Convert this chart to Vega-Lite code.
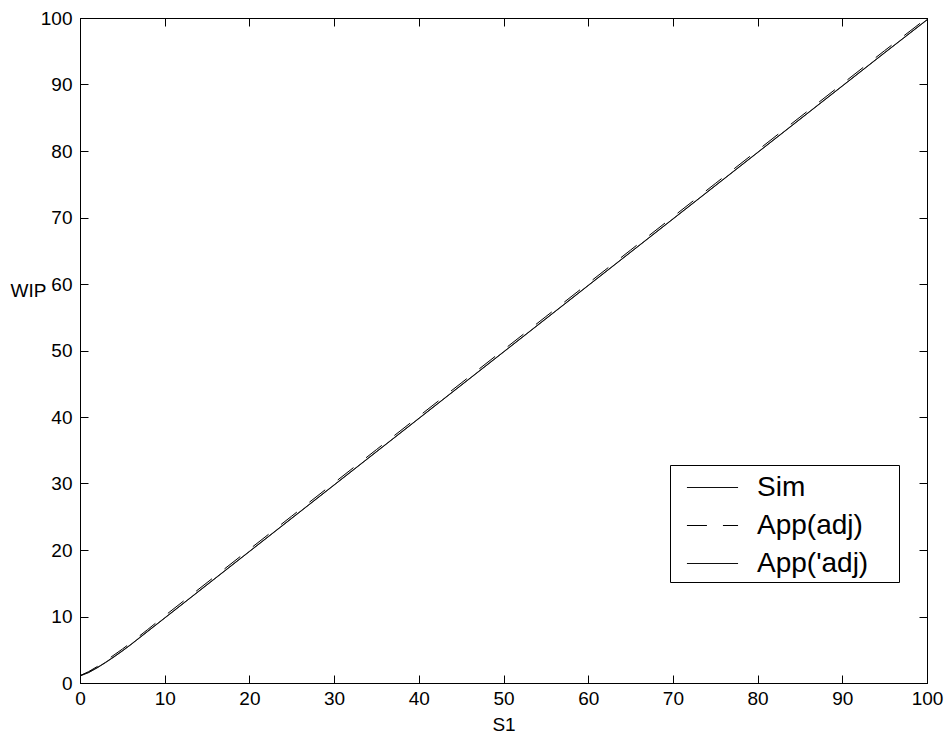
{
  "$schema": "https://vega.github.io/schema/vega-lite/v6.json",
  "autosize": "none",
  "width": 847,
  "height": 665,
  "padding": {"left": 80, "top": 18, "right": 22, "bottom": 53},
  "background": "white",
  "data": {
    "values": [
      {"series": "Sim", "s1": 0, "wip": 1.1},
      {"series": "Sim", "s1": 1, "wip": 1.6},
      {"series": "Sim", "s1": 2, "wip": 2.3},
      {"series": "Sim", "s1": 3, "wip": 3.1},
      {"series": "Sim", "s1": 4, "wip": 3.95},
      {"series": "Sim", "s1": 5, "wip": 4.85},
      {"series": "Sim", "s1": 6, "wip": 5.8},
      {"series": "Sim", "s1": 8, "wip": 7.8},
      {"series": "Sim", "s1": 10, "wip": 9.8},
      {"series": "Sim", "s1": 15, "wip": 14.8},
      {"series": "Sim", "s1": 20, "wip": 19.8},
      {"series": "Sim", "s1": 25, "wip": 24.8},
      {"series": "Sim", "s1": 30, "wip": 29.8},
      {"series": "Sim", "s1": 35, "wip": 34.8},
      {"series": "Sim", "s1": 40, "wip": 39.8},
      {"series": "Sim", "s1": 45, "wip": 44.8},
      {"series": "Sim", "s1": 50, "wip": 49.8},
      {"series": "Sim", "s1": 55, "wip": 54.8},
      {"series": "Sim", "s1": 60, "wip": 59.8},
      {"series": "Sim", "s1": 65, "wip": 64.8},
      {"series": "Sim", "s1": 70, "wip": 69.8},
      {"series": "Sim", "s1": 75, "wip": 74.8},
      {"series": "Sim", "s1": 80, "wip": 79.8},
      {"series": "Sim", "s1": 85, "wip": 84.8},
      {"series": "Sim", "s1": 90, "wip": 89.8},
      {"series": "Sim", "s1": 95, "wip": 94.8},
      {"series": "Sim", "s1": 100, "wip": 99.75},
      {"series": "App(adj)", "s1": 0, "wip": 1.1},
      {"series": "App(adj)", "s1": 1, "wip": 1.7},
      {"series": "App(adj)", "s1": 2, "wip": 2.45},
      {"series": "App(adj)", "s1": 3, "wip": 3.3},
      {"series": "App(adj)", "s1": 4, "wip": 4.2},
      {"series": "App(adj)", "s1": 5, "wip": 5.1},
      {"series": "App(adj)", "s1": 6, "wip": 6.05},
      {"series": "App(adj)", "s1": 8, "wip": 8.05},
      {"series": "App(adj)", "s1": 10, "wip": 10.1},
      {"series": "App(adj)", "s1": 15, "wip": 15.1},
      {"series": "App(adj)", "s1": 20, "wip": 20.1},
      {"series": "App(adj)", "s1": 25, "wip": 25.1},
      {"series": "App(adj)", "s1": 30, "wip": 30.1},
      {"series": "App(adj)", "s1": 35, "wip": 35.1},
      {"series": "App(adj)", "s1": 40, "wip": 40.1},
      {"series": "App(adj)", "s1": 45, "wip": 45.1},
      {"series": "App(adj)", "s1": 50, "wip": 50.1},
      {"series": "App(adj)", "s1": 55, "wip": 55.1},
      {"series": "App(adj)", "s1": 60, "wip": 60.1},
      {"series": "App(adj)", "s1": 65, "wip": 65.1},
      {"series": "App(adj)", "s1": 70, "wip": 70.1},
      {"series": "App(adj)", "s1": 75, "wip": 75.1},
      {"series": "App(adj)", "s1": 80, "wip": 80.1},
      {"series": "App(adj)", "s1": 85, "wip": 85.1},
      {"series": "App(adj)", "s1": 90, "wip": 90.1},
      {"series": "App(adj)", "s1": 95, "wip": 95.1},
      {"series": "App(adj)", "s1": 100, "wip": 100.0},
      {"series": "App('adj)", "s1": 0, "wip": 1.05},
      {"series": "App('adj)", "s1": 1, "wip": 1.55},
      {"series": "App('adj)", "s1": 2, "wip": 2.25},
      {"series": "App('adj)", "s1": 3, "wip": 3.05},
      {"series": "App('adj)", "s1": 4, "wip": 3.9},
      {"series": "App('adj)", "s1": 5, "wip": 4.8},
      {"series": "App('adj)", "s1": 6, "wip": 5.75},
      {"series": "App('adj)", "s1": 8, "wip": 7.75},
      {"series": "App('adj)", "s1": 10, "wip": 9.75},
      {"series": "App('adj)", "s1": 15, "wip": 14.75},
      {"series": "App('adj)", "s1": 20, "wip": 19.75},
      {"series": "App('adj)", "s1": 25, "wip": 24.75},
      {"series": "App('adj)", "s1": 30, "wip": 29.75},
      {"series": "App('adj)", "s1": 35, "wip": 34.75},
      {"series": "App('adj)", "s1": 40, "wip": 39.75},
      {"series": "App('adj)", "s1": 45, "wip": 44.75},
      {"series": "App('adj)", "s1": 50, "wip": 49.75},
      {"series": "App('adj)", "s1": 55, "wip": 54.75},
      {"series": "App('adj)", "s1": 60, "wip": 59.75},
      {"series": "App('adj)", "s1": 65, "wip": 64.75},
      {"series": "App('adj)", "s1": 70, "wip": 69.75},
      {"series": "App('adj)", "s1": 75, "wip": 74.75},
      {"series": "App('adj)", "s1": 80, "wip": 79.75},
      {"series": "App('adj)", "s1": 85, "wip": 84.75},
      {"series": "App('adj)", "s1": 90, "wip": 89.75},
      {"series": "App('adj)", "s1": 95, "wip": 94.75},
      {"series": "App('adj)", "s1": 100, "wip": 99.7}
    ]
  },
  "layer": [
    {
      "mark": {"type": "line", "color": "black", "strokeWidth": 1, "opacity": 1, "clip": true},
      "encoding": {
        "x": {
          "field": "s1", "type": "quantitative",
          "scale": {"domain": [0, 100], "nice": false, "zero": false},
          "axis": {
            "orient": "bottom",
            "values": [0, 10, 20, 30, 40, 50, 60, 70, 80, 90, 100],
            "title": "S1",
            "titleX": 423.5,
            "titleY": 47,
            "titleAnchor": null,
            "titleAlign": "center",
            "titleBaseline": "alphabetic",
            "labelPadding": 14
          }
        },
        "y": {
          "field": "wip", "type": "quantitative",
          "scale": {"domain": [0, 100], "nice": false, "zero": false},
          "axis": {
            "orient": "left",
            "values": [0, 10, 20, 30, 40, 50, 60, 70, 80, 90, 100],
            "title": "WIP",
            "titleAngle": 0,
            "titleX": -70,
            "titleY": 272,
            "titleAnchor": null,
            "titleAlign": "left",
            "titleBaseline": "middle",
            "labelPadding": 16
          }
        },
        "strokeDash": {
          "field": "series", "type": "nominal",
          "scale": {
            "domain": ["Sim", "App(adj)", "App('adj)"],
            "range": [[1, 0], [20, 16], [1, 0]]
          },
          "legend": {
            "title": "MM",
            "titleOrient": "right",
            "titleColor": "white",
            "titleFontSize": 13,
            "titlePadding": 5,
            "orient": "none",
            "legendX": 590,
            "legendY": 447,
            "symbolType": "M-1.42,0H1.42",
            "symbolSize": 1296,
            "symbolOffset": 20,
            "symbolStrokeWidth": 1,
            "symbolStrokeColor": "black",
            "symbolFillColor": "transparent",
            "symbolOpacity": 1,
            "labelFontSize": 28,
            "labelFont": "Liberation Sans",
            "labelColor": "black",
            "labelOffset": 26,
            "rowPadding": 5,
            "padding": 4,
            "strokeColor": "black",
            "fillColor": "white"
          }
        }
      }
    },
    {
      "mark": {"type": "line", "strokeOpacity": 0},
      "encoding": {
        "x": {
          "field": "s1", "type": "quantitative",
          "axis": {"orient": "top", "values": [0, 10, 20, 30, 40, 50, 60, 70, 80, 90, 100], "labels": false, "title": null}
        },
        "y": {
          "field": "wip", "type": "quantitative",
          "axis": {"orient": "right", "values": [0, 10, 20, 30, 40, 50, 60, 70, 80, 90, 100], "labels": false, "title": null}
        }
      }
    }
  ],
  "resolve": {"axis": {"x": "independent", "y": "independent"}},
  "config": {
    "view": {"stroke": "black", "strokeWidth": 1},
    "axis": {
      "grid": false,
      "tickSize": -8,
      "tickColor": "black",
      "tickWidth": 1,
      "domainColor": "black",
      "domainWidth": 1,
      "labelFont": "Liberation Sans",
      "labelFontSize": 19,
      "labelColor": "black",
      "titleFont": "Liberation Sans",
      "titleFontSize": 19,
      "titleFontWeight": "normal",
      "titleColor": "black",
      "labelFlush": false,
      "labelOverlap": false
    }
  }
}
